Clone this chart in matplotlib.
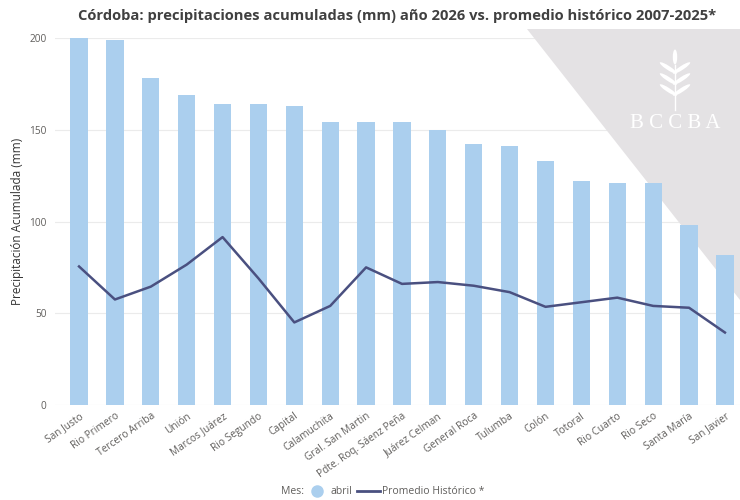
import matplotlib
matplotlib.use("Agg")
import matplotlib.pyplot as plt
from matplotlib.lines import Line2D
from matplotlib.patches import Polygon, Ellipse
import numpy as np

plt.rcParams['font.family'] = ['Open Sans', 'DejaVu Sans']

# datos
departamentos = ["San Justo", "Rio Primero", "Tercero Arriba", "Unión", "Marcos Juárez",
                 "Rio Segundo", "Capital", "Calamuchita", "Gral. San Martin",
                 "Pdte. Roq. Sáenz Peña", "Juárez Celman", "General Roca", "Tulumba",
                 "Colón", "Totoral", "Rio Cuarto", "Rio Seco", "Santa María", "San Javier"]
abril = [200, 199, 178, 169, 164, 164, 163, 154, 154, 154, 150, 142, 141, 133, 122, 121, 121, 98, 82]
promedio = [75.5, 57.5, 64.5, 76.5, 91.5, 69, 45, 54, 75, 66, 67, 65, 61.5, 53.5, 56, 58.5, 54, 53, 39.5]
yticks = [0, 50, 100, 150, 200]

fig = plt.figure(figsize=(7.4, 5.0), dpi=100)
ax = fig.add_axes([55 / 740, 1 - 405 / 500, 685 / 740, 367 / 500])

x = np.arange(len(departamentos))

# marca de agua (triangulo gris)
tri = Polygon([[527 / 740, 1 - 29 / 500], [1.0, 1 - 29 / 500], [1.0, 1 - 300 / 500]],
              closed=True, transform=fig.transFigure, facecolor='#e4e2e4',
              edgecolor='none', zorder=1.5)
ax.add_patch(tri)
tri.set_clip_on(False)

ax.bar(x, abril, width=0.48, color='#abcfee', zorder=2)
ax.plot(x, promedio, color='#4a5080', lw=1.8, zorder=3)

# logo (espiga)
lx, ly = 675 / 740, 1 - 80 / 500
ax.add_patch(Ellipse((lx, ly + 0.046), 0.006, 0.03, transform=fig.transFigure,
                     facecolor='white', edgecolor='none', zorder=1.6))
for k in range(3):
    yy = ly + 0.024 - k * 0.022
    for s in (-1, 1):
        e = Ellipse((lx + s * 0.009, yy), 0.007, 0.032, angle=-s * 45,
                    transform=fig.transFigure, facecolor='white', edgecolor='none', zorder=1.6)
        ax.add_patch(e)
ax.add_line(Line2D([lx, lx], [ly - 0.06, ly + 0.03], transform=fig.transFigure,
                   color='white', lw=1.0, zorder=1.6))
fig.text(675 / 740, 1 - 124 / 500, "B C C B A", color='white', fontsize=15,
         family='Liberation Serif', ha='center', va='center', zorder=5)

ax.set_xlim(-0.67, len(departamentos) - 0.58)
ax.set_ylim(0, 200)
ax.set_yticks(yticks)
ax.grid(axis='y', color='#ebebeb', lw=0.8, zorder=0)
ax.set_axisbelow(True)
for sp in ax.spines.values():
    sp.set_visible(False)
ax.tick_params(length=0, colors='#605e5c', labelsize=7.3)
ax.tick_params(axis='y', pad=6)
ax.tick_params(axis='x', pad=4)
ax.set_xticks(x)
ax.set_xticklabels(departamentos, rotation=35, ha='right', rotation_mode='anchor')
ax.set_ylabel("Precipitación Acumulada (mm)", fontsize=8.5, color='#333333')
ax.yaxis.set_label_coords(-31 / 685, 0.5)

fig.text(397 / 740, 1 - 16 / 500,
         "Córdoba: precipitaciones acumuladas (mm) año 2026 vs. promedio histórico 2007-2025*",
         ha='center', va='center', fontsize=10.6, fontweight='bold', color='#404040')

handles = [Line2D([], [], marker='o', ls='none', color='#abcfee', markersize=8),
           Line2D([], [], color='#4a5080', lw=2)]
fig.legend(handles, ["abril", "Promedio Histórico *"], loc='center',
           bbox_to_anchor=(395 / 740, 1 - 492 / 500), ncol=2, frameon=False,
           fontsize=7.5, labelcolor='#605e5c', handlelength=2.2, handletextpad=0.2,
           columnspacing=0.5)
fig.text(293 / 740, 1 - 492 / 500, "Mes:", fontsize=7.5, color='#605e5c',
         ha='center', va='center')

fig.savefig("out.png", dpi=100)
